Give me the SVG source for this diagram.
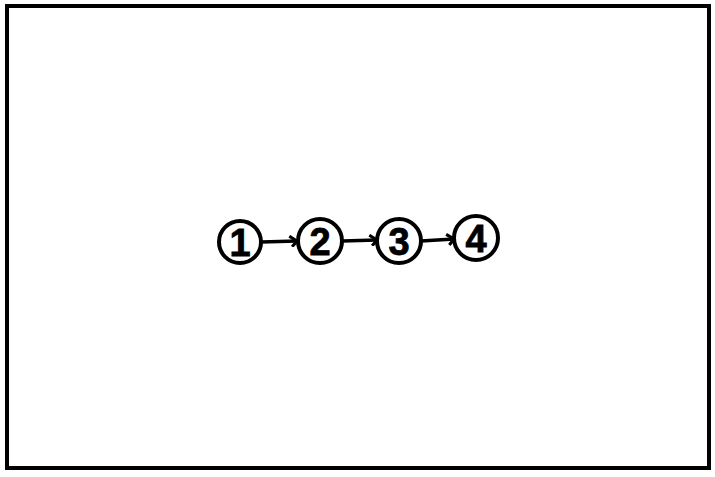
<svg xmlns="http://www.w3.org/2000/svg" width="715" height="477" viewBox="0 0 715 477">
<style>
.frame{fill:none;stroke:#000;stroke-width:4}
.node circle{fill:#fff;stroke:#000;stroke-width:4}
.node text{font-family:"Liberation Sans",Arial,sans-serif;font-weight:bold;font-size:38px;text-anchor:middle;fill:#000;stroke:#000;stroke-width:0.8}
.conn line{stroke:#000;stroke-width:3.5;marker-end:url(#ah)}
</style>
<defs>
<marker id="ah" viewBox="0 0 10 10" refX="8" refY="5" markerWidth="3.6" markerHeight="3.6" orient="auto" markerUnits="strokeWidth">
<path d="M2,1 L8,5 L4,9.5" fill="none" stroke="#000" stroke-width="2.4"/>
</marker>
</defs>
<rect width="715" height="477" fill="#fff"/>
<rect class="frame" x="7" y="6" width="702" height="462"/>
<g class="conn">
<line x1="261" y1="242" x2="297" y2="241"/>
<line x1="342" y1="241" x2="377" y2="240"/>
<line x1="421" y1="241" x2="454" y2="239"/>
</g>
<g id="n1" class="node"><circle cx="240" cy="242" r="21"/><text x="240" y="255.5">1</text></g>
<g id="n2" class="node"><circle cx="320" cy="241" r="22"/><text x="320" y="254.5">2</text></g>
<g id="n3" class="node"><circle cx="399" cy="241" r="22"/><text x="399" y="254.5">3</text></g>
<g id="n4" class="node"><circle cx="476" cy="238" r="22"/><text x="476" y="251.5">4</text></g>
</svg>
